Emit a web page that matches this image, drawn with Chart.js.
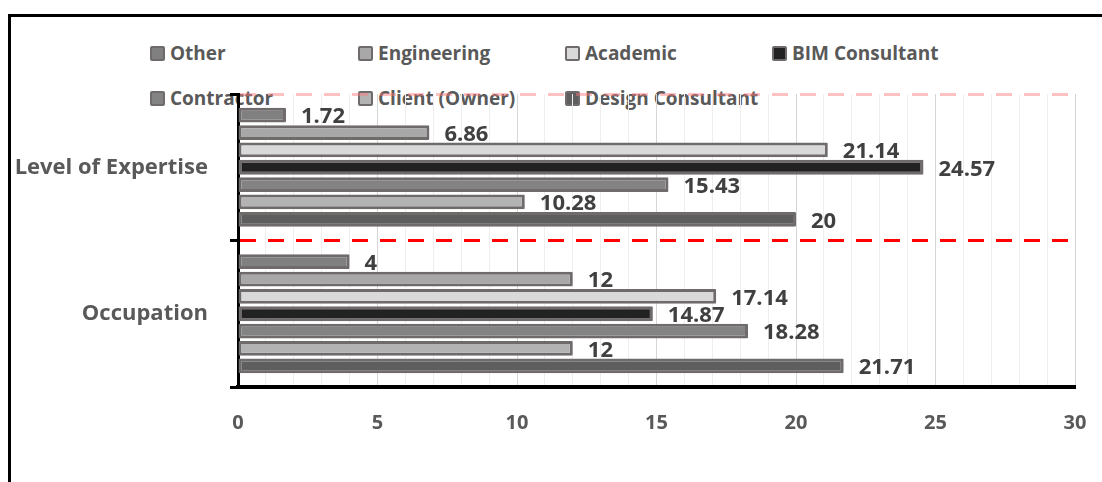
<!DOCTYPE html>
<html>
<head>
<meta charset="utf-8">
<script src="https://cdn.jsdelivr.net/npm/chart.js@4/dist/chart.umd.min.js"></script>
<style>
  html, body { margin: 0; padding: 0; background: #fff; overflow: hidden; }
  #wrap { position: relative; width: 1102px; height: 482px; }
  #frame { position: absolute; left: 8px; top: 14px; width: 1200px; height: 600px; border: 3px solid #000; }
  #legend { position: absolute; left: 0; top: 0; width: 1102px; height: 120px; font: bold 19px "Open Sans", sans-serif; color: #595959; }
  .item { position: absolute; display: flex; align-items: center; height: 24px; white-space: nowrap; }
  .box { width: 11px; height: 11px; border: 2px solid #6f6b6b; border-radius: 2px; margin-right: 5px; }
  canvas { position: absolute; left: 0; top: 0; }
</style>
</head>
<body>
<div id="wrap">
  <div id="frame"></div>
  <div id="legend"></div>
  <canvas id="chart" width="1102" height="482"></canvas>
</div>
<script>
const categories = ['Level of Expertise', 'Occupation'];
const seriesNames = ['Other', 'Engineering', 'Academic', 'BIM Consultant', 'Contractor', 'Client (Owner)', 'Design Consultant'];
const other = [1.72, 4];
const engineering = [6.86, 12];
const academic = [21.14, 17.14];
const bimConsultant = [24.57, 14.87];
const contractor = [15.43, 18.28];
const clientOwner = [10.28, 12];
const designConsultant = [20, 21.71];
const seriesValues = [other, engineering, academic, bimConsultant, contractor, clientOwner, designConsultant];
const fills = ['#808080', '#a8a8a8', '#d9d9d9', '#222222', '#838383', '#b3b3b3', '#5e5e5e'];

const datasets = seriesNames.map((name, i) => ({
  label: name,
  data: seriesValues[i],
  backgroundColor: fills[i],
  borderColor: '#6f6b6b',
  borderWidth: 3,
  borderSkipped: false,
  borderRadius: 1,
  categoryPercentage: 0.83,
  barPercentage: 0.85
}));

// legend laid out in fixed columns like the original
const legendPos = [[150, 41], [358, 41], [565, 41], [772, 41], [150, 86], [358, 86], [565, 86]];
const legendEl = document.getElementById('legend');
datasets.forEach((d, i) => {
  const it = document.createElement('div');
  it.className = 'item';
  it.style.left = legendPos[i][0] + 'px';
  it.style.top = legendPos[i][1] + 'px';
  const b = document.createElement('span');
  b.className = 'box';
  b.style.background = d.backgroundColor;
  it.appendChild(b);
  it.appendChild(document.createTextNode(d.label));
  legendEl.appendChild(it);
});

const valueLabels = {
  id: 'valueLabels',
  afterDatasetsDraw(chart) {
    const ctx = chart.ctx;
    ctx.save();
    ctx.font = 'bold 22px "Open Sans", sans-serif';
    ctx.fillStyle = '#404040';
    ctx.textAlign = 'left';
    ctx.textBaseline = 'middle';
    chart.data.datasets.forEach((ds, i) => {
      chart.getDatasetMeta(i).data.forEach((bar, j) => {
        ctx.fillText(String(ds.data[j]), bar.x + 15, bar.y + 2);
      });
    });
    ctx.restore();
  }
};

new Chart(document.getElementById('chart'), {
  type: 'bar',
  data: { labels: categories, datasets },
  options: {
    indexAxis: 'y',
    responsive: false,
    animation: false,
    layout: { padding: { top: 94, right: 27, left: 0, bottom: 0 } },
    plugins: { legend: { display: false }, tooltip: { enabled: false } },
    scales: {
      x: {
        min: 0, max: 30,
        afterFit(s) { s.height = 95; s.paddingRight = 0; s.paddingLeft = 0; },
        ticks: {
          stepSize: 1,
          autoSkip: false,
          maxRotation: 0,
          padding: 24,
          color: '#595959',
          font: { family: '"Open Sans", sans-serif', size: 20, weight: 'bold' },
          callback: v => (v % 5 === 0 ? v : '')
        },
        grid: {
          drawTicks: false,
          color: c => (c.tick && c.tick.value % 5 === 0 ? '#d6d6d6' : '#eeeeee'),
          lineWidth: 1
        },
        border: { display: true, color: '#000', width: 4 }
      },
      y: {
        afterFit(s) { s.width = 238; },
        ticks: {
          padding: 22,
          color: '#595959',
          font: { family: '"Open Sans", sans-serif', size: 22, weight: 'bold' }
        },
        grid: {
          offset: true,
          lineWidth: 3,
          color: c => (c.index === 0 ? 'rgba(255,120,120,0.45)' : c.index === 1 ? '#ff0000' : 'rgba(0,0,0,0)'),
          tickColor: '#000',
          tickLength: 8,
          tickWidth: 3,
          tickBorderDash: []
        },
        border: { display: true, color: '#000', width: 3, dash: [16, 12] }
      }
    }
  },
  plugins: [valueLabels]
});
</script>
</body>
</html>
